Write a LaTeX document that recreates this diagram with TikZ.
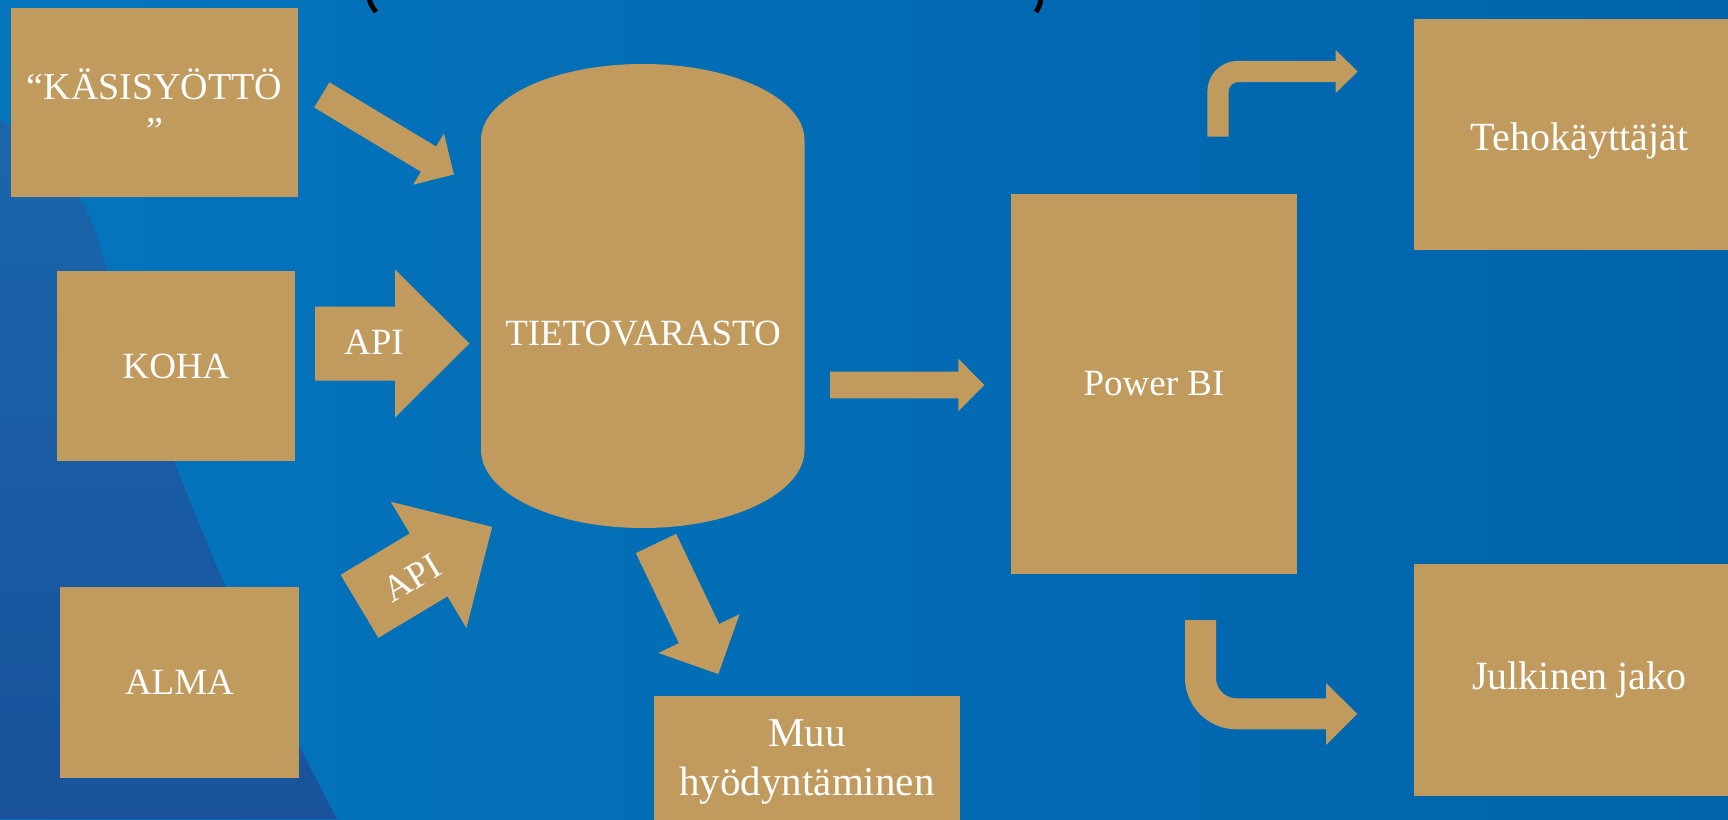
\documentclass[tikz,border=0pt]{standalone}
\usepackage{fontspec}
\setmainfont{Liberation Serif}
\usetikzlibrary{calc}
\definecolor{gold}{RGB}{193,154,94}
\definecolor{bgL}{RGB}{4,117,189}
\definecolor{bgR}{RGB}{0,99,171}
\definecolor{dkT}{RGB}{26,102,172}
\definecolor{dkB}{RGB}{25,82,155}
\tikzset{
  box/.style={fill=gold, inner sep=0pt, outer sep=0pt, text=white, align=center,
    font=\fontsize{37}{44}\selectfont},
  lbl/.style={text=white, inner sep=0pt, font=\fontsize{37}{44}\selectfont},
  lower/.style={font=\fontsize{40}{46}\selectfont},
  bent/.style={draw=gold, line cap=butt},
  paren/.style={draw=black, line width=5pt, line cap=butt},
}
\newcommand{\blockarr}[5]{%
  \coordinate (hb) at ($(#2)!#5!(#1)$);
  \fill[gold] ($(#1)!#3!90:(#2)$) -- ($(hb)!#3!90:(#2)$) -- ($(hb)!#4!90:(#2)$)
    -- (#2) -- ($(hb)!#4!-90:(#2)$) -- ($(hb)!#3!-90:(#2)$) -- ($(#1)!#3!-90:(#2)$) -- cycle;}
\begin{document}
\begin{tikzpicture}[x=1pt,y=-1pt]
\useasboundingbox (0,0) rectangle (1728,819);
\clip (0,0) rectangle (1728,819);
% background
\shade[left color=bgL, right color=bgR] (0,0) rectangle (1728,819);
\shade[top color=dkT, bottom color=dkB] (0,120) .. controls (50,145) and (80,190) .. (95,230)
  .. controls (140,380) and (220,600) .. (337,819) -- (0,819) -- cycle;
% title remnants
\draw[paren] (369,-2) .. controls (371,5) .. (376,12);
\draw[paren] (1041,-2) .. controls (1040,5) .. (1036,12);
% boxes
\node[box, minimum width=287pt, minimum height=189pt] (kasi) at (154.5,102.5) {};
\node[lbl, align=center, font=\fontsize{38}{44}\selectfont] (kasit) at (154.5,106) {“KÄSISYÖTTÖ\\”};
\node[box, minimum width=238pt, minimum height=190pt] (koha) at (176,366) {KOHA};
\node[box, minimum width=239pt, minimum height=191pt] (alma) at (179.5,682.5) {ALMA};
\node[box, minimum width=286pt, minimum height=380pt] (pbi) at (1154,384) {Power BI};
\node[box, minimum width=331pt, minimum height=231pt] (teho) at (1579.5,134.5) {};
\node[lbl, lower] (tehot) at (1579.5,141) {Tehokäyttäjät};
\node[box, lower, minimum width=331pt, minimum height=232pt] (julk) at (1579.5,680) {Julkinen jako};
\node[box, minimum width=306pt, minimum height=128pt] (muu) at (807,760) {};
\node[lbl, align=center, font=\fontsize{41}{49}\selectfont] (muut) at (807,762) {Muu\\hyödyntäminen};
% cylinder
\fill[gold] (481,140) arc[start angle=180, end angle=0, x radius=161.75pt, y radius=76pt]
  -- (804.5,450) arc[start angle=0, end angle=-180, x radius=161.75pt, y radius=78pt] -- cycle;
\node[lbl] (tv) at (643,334) {TIETOVARASTO};
% block arrows
\coordinate (a1s) at (321.8,94.9);  \coordinate (a1e) at (453.9,174.4);
\blockarr{a1s}{a1e}{14.7pt}{29.8pt}{29.6pt}
\coordinate (a2s) at (315,343.5);  \coordinate (a2e) at (469.5,343.5);
\blockarr{a2s}{a2e}{37pt}{74pt}{74.5pt}
\node[lbl] (api1) at (374,342) {API};
\coordinate (a3s) at (359.5,606.3);  \coordinate (a3e) at (492.1,526.9);
\blockarr{a3s}{a3e}{36.7pt}{73.6pt}{74pt}
\node[lbl, rotate=31] (api2) at (412,578) {API};
\coordinate (a4s) at (830,385);  \coordinate (a4e) at (984.3,385);
\blockarr{a4s}{a4e}{13.3pt}{26.3pt}{26pt}
\coordinate (a5s) at (656,543.5);  \coordinate (a5e) at (718.3,674);
\blockarr{a5s}{a5e}{22.3pt}{45pt}{44.8pt}
% bent arrows
\coordinate (b1s) at (1218,136.7); \coordinate (b1c) at (1218,71.5); \coordinate (b1h) at (1336.7,71.5);
\draw[bent, line width=21.3pt, rounded corners=20pt] (b1s) -- (b1c) -- (b1h);
\fill[gold] (1335.7,50) -- (1357.7,71.5) -- (1335.7,93) -- cycle;
\coordinate (b2s) at (1200.5,620); \coordinate (b2c) at (1200.5,713.8); \coordinate (b2h) at (1327,713.8);
\draw[bent, line width=31pt, rounded corners=36pt] (b2s) -- (b2c) -- (b2h);
\fill[gold] (1326,683) -- (1357.3,713.8) -- (1326,745) -- cycle;
\end{tikzpicture}
\end{document}
